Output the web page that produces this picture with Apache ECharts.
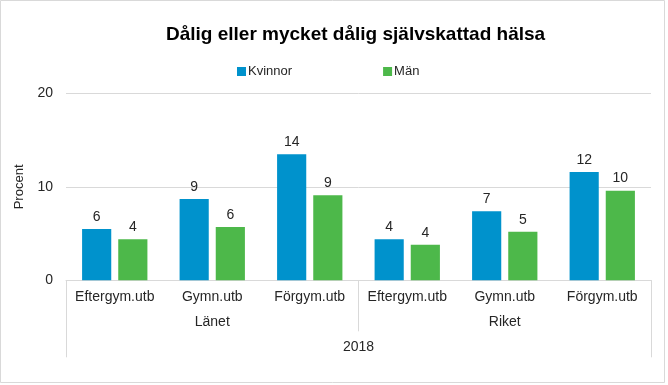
<!DOCTYPE html>
<html>
<head>
<meta charset="utf-8">
<script src="https://cdn.jsdelivr.net/npm/echarts@6/dist/echarts.min.js"></script>
<style>
html,body{margin:0;padding:0;background:#fff;}
#chart{width:668px;height:385px;}
</style>
</head>
<body>
<div id="chart"></div>
<script>
const categories = ['Eftergym.utb', 'Gymn.utb', 'Förgym.utb', 'Eftergym.utb', 'Gymn.utb', 'Förgym.utb'];
const groups = ['Länet', 'Riket'];
const years = ['2018'];
const kvinnor = [5.5, 8.7, 13.5, 4.4, 7.4, 11.6];
const man = [4.4, 5.7, 9.1, 3.8, 5.2, 9.6];
const yTicks = { min: 0, max: 20, interval: 10 };

const FONT = '"Liberation Sans", Arial, sans-serif';
const TXT = '#262626';
const LINE = '#d9d9d9';

const chart = echarts.init(document.getElementById('chart'), null, { renderer: 'canvas' });

const labelOpt = {
  show: true, position: 'top', distance: 5,
  color: TXT, fontSize: 14, fontFamily: FONT,
  formatter: p => Math.round(p.value)
};

chart.setOption({
  animation: false,
  backgroundColor: '#fff',
  title: {
    text: 'Dålig eller mycket dålig självskattad hälsa',
    left: 161, top: 20,
    textStyle: { fontFamily: FONT, fontSize: 19, fontWeight: 'bold', color: '#000' }
  },
  legend: {
    data: ['Kvinnor', 'Män'],
    left: 232, top: 60,
    icon: 'rect', itemWidth: 9, itemHeight: 9, itemGap: 91,
    textStyle: { fontFamily: FONT, fontSize: 13, color: TXT, padding: [0, 0, 0, -3] }
  },
  grid: { left: 66, right: 17, top: 93.5, bottom: 104.7, containLabel: false },
  xAxis: [
    {
      type: 'category', data: categories, position: 'bottom',
      axisLine: { show: true, lineStyle: { color: LINE } },
      axisTick: { show: false },
      axisLabel: { interval: 0, margin: 10, fontSize: 14, fontFamily: FONT, color: TXT }
    },
    {
      type: 'category', data: groups, position: 'bottom', offset: 51,
      axisLine: { show: false },
      axisTick: { show: true, inside: true, length: 51, interval: 0, lineStyle: { color: LINE } },
      axisLabel: { inside: true, interval: 0, margin: 2, fontSize: 14, fontFamily: FONT, color: TXT }
    },
    {
      type: 'category', data: years, position: 'bottom', offset: 77,
      axisLine: { show: false },
      axisTick: { show: true, inside: true, length: 77, interval: 0, lineStyle: { color: LINE } },
      axisLabel: { inside: true, interval: 0, margin: 3, fontSize: 14, fontFamily: FONT, color: TXT }
    }
  ],
  yAxis: {
    type: 'value', min: yTicks.min, max: yTicks.max, interval: yTicks.interval,
    name: 'Procent', nameLocation: 'middle', nameRotate: 90, nameGap: 40,
    nameTextStyle: { fontFamily: FONT, fontSize: 13, color: TXT },
    axisLine: { show: false }, axisTick: { show: false },
    axisLabel: { margin: 13, fontSize: 14, fontFamily: FONT, color: TXT },
    splitLine: { lineStyle: { color: LINE } }
  },
  series: [
    {
      name: 'Kvinnor', type: 'bar', data: kvinnor, xAxisIndex: 0,
      barGap: '24%', barCategoryGap: '33%',
      itemStyle: { color: '#0092cc' }, label: labelOpt
    },
    {
      name: 'Män', type: 'bar', data: man, xAxisIndex: 0,
      barGap: '24%', barCategoryGap: '33%',
      itemStyle: { color: '#4db84a' }, label: labelOpt
    }
  ],
  graphic: [
    {
      type: 'rect', silent: true, z: -1,
      shape: { x: 0.5, y: 0.5, width: 664, height: 382 },
      style: { fill: 'none', stroke: LINE, lineWidth: 1 }
    }
  ]
});
</script>
</body>
</html>
